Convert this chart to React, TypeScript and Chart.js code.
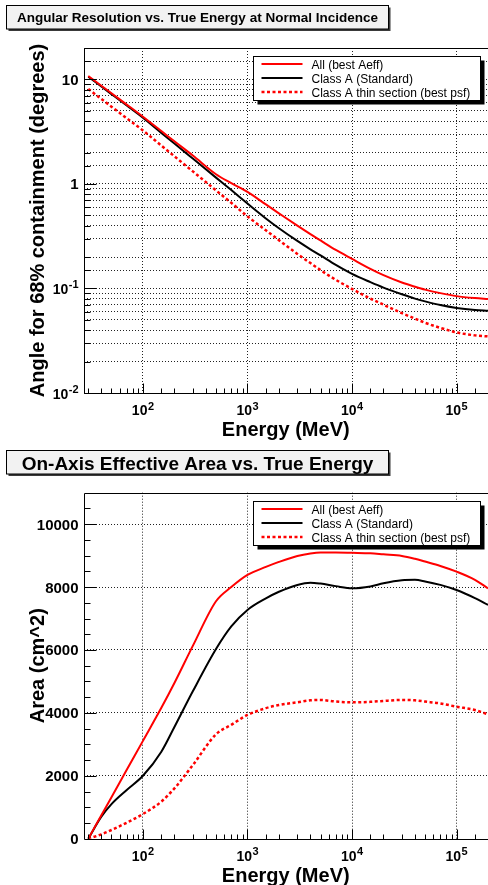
import React, { useEffect, useRef } from 'react';
import { Chart, registerables } from 'chart.js';

Chart.register(...registerables);

// ---------- data ----------
const energyMeV = [30, 40, 50, 70, 100, 150, 200, 300, 500, 700, 1000, 1500, 2000, 3000, 4000, 5000, 7000, 10000, 15000, 20000, 30000, 40000, 50000, 70000, 100000, 150000, 200000];

// 68% containment angle (degrees)
const psfAll = [10.8, 8.72, 7.38, 5.75, 4.4, 3.21, 2.56, 1.87, 1.24, 1.02, 0.84, 0.637, 0.524, 0.399, 0.331, 0.288, 0.234, 0.192, 0.154, 0.134, 0.114, 0.104, 0.0975, 0.0903, 0.0845, 0.081, 0.0795];
const psfClassA = [10.6, 8.55, 7.24, 5.63, 4.3, 3.08, 2.44, 1.75, 1.15, 0.874, 0.65, 0.468, 0.377, 0.285, 0.237, 0.207, 0.168, 0.138, 0.115, 0.102, 0.088, 0.08, 0.0753, 0.0695, 0.0652, 0.0623, 0.0612];
const psfThin = [8.1, 6.51, 5.49, 4.25, 3.25, 2.33, 1.84, 1.32, 0.868, 0.66, 0.49, 0.36, 0.29, 0.214, 0.175, 0.15, 0.121, 0.099, 0.08, 0.07, 0.058, 0.0515, 0.047, 0.042, 0.038, 0.0356, 0.0348];

// effective area (cm^2)
const aeffAll = [0, 745, 1320, 2190, 3110, 4160, 4950, 6130, 7550, 8000, 8385, 8640, 8800, 8990, 9070, 9100, 9100, 9090, 9075, 9040, 8990, 8900, 8810, 8670, 8490, 8230, 7960];
const aeffClassA = [0, 700, 1100, 1550, 2000, 2765, 3550, 4685, 6030, 6750, 7272, 7640, 7850, 8067, 8140, 8110, 8030, 7962, 8020, 8120, 8215, 8230, 8180, 8070, 7908, 7650, 7431];
const aeffThin = [0, 140, 277, 510, 785, 1180, 1600, 2340, 3320, 3620, 3933, 4150, 4250, 4336, 4400, 4410, 4360, 4336, 4350, 4380, 4410, 4400, 4360, 4300, 4197, 4090, 3955];

const seriesLabels = ['All (best Aeff)', 'Class A (Standard)', 'Class A thin section (best psf)'];
const seriesColors = ['#ff0000', '#000000', '#ff0000'];
const seriesWidths = [2, 2, 2.5];
const seriesDash: number[][] = [[], [], [3, 2.5]];

const energyTickValues = [1e2, 1e3, 1e4, 1e5];
const energyTickLabels = ['10^2', '10^3', '10^4', '10^5'];
const angleTickValues = [0.01, 0.1, 1, 10];
const angleTickLabels = ['10^-2', '10^-1', '1', '10'];
const areaTickValues = [0, 2000, 4000, 6000, 8000, 10000];
const areaTickLabels = ['0', '2000', '4000', '6000', '8000', '10000'];

const FONT = '"Liberation Sans", Arial, Helvetica, sans-serif';
const CANVAS_W = 490;
const AREA_LEFT = 83.5;
const AREA_RIGHT = 488;

const isDecade = (v: number) => {
  const l = Math.log10(v);
  return Math.abs(l - Math.round(l)) < 1e-6;
};

function drawLabel(ctx: CanvasRenderingContext2D, label: string, x: number, y: number, align: 'center' | 'right') {
  const parts = label.split('^');
  const base = parts[0];
  const exp = parts.length > 1 ? parts[1] : undefined;
  const baseSize = exp !== undefined ? 14 : 15;
  const expSize = 11;
  ctx.font = `bold ${baseSize}px ${FONT}`;
  const wb = ctx.measureText(base).width;
  let we = 0;
  if (exp !== undefined) {
    ctx.font = `bold ${expSize}px ${FONT}`;
    we = ctx.measureText(exp).width + 0.5;
  }
  const total = wb + we;
  const sx = align === 'center' ? x - total / 2 : x - total;
  ctx.textAlign = 'left';
  ctx.textBaseline = 'alphabetic';
  ctx.font = `bold ${baseSize}px ${FONT}`;
  ctx.fillText(base, sx, y);
  if (exp !== undefined) {
    ctx.font = `bold ${expSize}px ${FONT}`;
    ctx.fillText(exp, sx + wb + 0.5, y - 5.5);
  }
}

type FrameCfg = {
  title: string;
  titleSize: number;
  titleBoxTop: number;
  titleBaseline: number;
  xTitle: string;
  yTitle: string;
  yMode: 'log' | 'linear';
  yTickValues: number[];
  yTickLabels: string[];
};

function makeFramePlugin(cfg: FrameCfg) {
  return {
    id: 'rootFrame',
    afterDraw(chart: any) {
      const ctx: CanvasRenderingContext2D = chart.ctx;
      const a = chart.chartArea;
      const xs = chart.scales.x;
      const ys = chart.scales.y;
      ctx.save();
      ctx.setLineDash([]);
      ctx.fillStyle = '#000';
      ctx.strokeStyle = '#000';
      ctx.lineWidth = 1;

      // frame
      const L = Math.round(a.left) + 0.5;
      const T = Math.round(a.top) + 0.5;
      const B = Math.round(a.bottom) + 0.5;
      const R = Math.round(a.right) + 0.5;
      ctx.beginPath();
      ctx.moveTo(R, T); ctx.lineTo(L, T); ctx.lineTo(L, B); ctx.lineTo(R, B); ctx.lineTo(R, T);
      ctx.stroke();

      // inner tick marks
      ctx.beginPath();
      for (const t of xs.ticks) {
        const px = Math.round(xs.getPixelForValue(t.value)) + 0.5;
        if (px < L + 1 || px > R - 1) continue;
        const len = isDecade(t.value) ? 10 : 5;
        ctx.moveTo(px, B); ctx.lineTo(px, B - len);
      }
      for (const t of ys.ticks) {
        const py = Math.round(ys.getPixelForValue(t.value)) + 0.5;
        if (py < T + 1 || py > B - 1) continue;
        const major = cfg.yMode === 'log' ? isDecade(t.value) : Math.abs(t.value % 2000) < 1e-6;
        const len = major ? 12 : 6;
        ctx.moveTo(L, py); ctx.lineTo(L + len, py);
      }
      ctx.stroke();

      // tick labels
      energyTickValues.forEach((v, i) => {
        drawLabel(ctx, energyTickLabels[i], xs.getPixelForValue(v), a.bottom + 22, 'center');
      });
      cfg.yTickValues.forEach((v, i) => {
        drawLabel(ctx, cfg.yTickLabels[i], a.left - 5, ys.getPixelForValue(v) + 5.5, 'right');
      });

      // axis titles
      ctx.font = `bold 20px ${FONT}`;
      ctx.textAlign = 'center';
      ctx.textBaseline = 'alphabetic';
      ctx.fillText(cfg.xTitle, (a.left + a.right) / 2, a.bottom + 43);
      ctx.save();
      ctx.translate(44, (a.top + a.bottom) / 2);
      ctx.rotate(-Math.PI / 2);
      ctx.fillText(cfg.yTitle, 0, 0);
      ctx.restore();

      // title box
      const bx = 6.5, by = cfg.titleBoxTop + 0.5, bw = 382, bh = 23.5;
      ctx.fillStyle = '#3a3a3a';
      ctx.fillRect(bx + 2, by + 2, bw, bh);
      ctx.fillStyle = '#f2f2f2';
      ctx.fillRect(bx, by, bw, bh);
      ctx.strokeStyle = '#000';
      ctx.strokeRect(bx, by, bw, bh);
      ctx.fillStyle = '#000';
      ctx.font = `bold ${cfg.titleSize}px ${FONT}`;
      ctx.textAlign = 'center';
      ctx.fillText(cfg.title, bx + bw / 2, cfg.titleBaseline);

      // legend
      const lx = Math.round(a.left + 169) + 0.5;
      const ly = Math.round(a.top + 8) + 0.5;
      const lw = 227, lh = 44;
      ctx.fillStyle = '#000';
      ctx.fillRect(lx + 4, ly + 4, lw, lh);
      ctx.fillStyle = '#fff';
      ctx.fillRect(lx, ly, lw, lh);
      ctx.strokeStyle = '#000';
      ctx.lineWidth = 1;
      ctx.strokeRect(lx, ly, lw, lh);
      seriesLabels.forEach((lab, i) => {
        const ry = ly + 7.5 + i * 14;
        ctx.save();
        ctx.strokeStyle = seriesColors[i];
        ctx.lineWidth = seriesWidths[i];
        ctx.setLineDash(seriesDash[i]);
        ctx.beginPath();
        ctx.moveTo(lx + 8, ry);
        ctx.lineTo(lx + 49, ry);
        ctx.stroke();
        ctx.restore();
        ctx.fillStyle = '#000';
        ctx.font = `12px ${FONT}`;
        ctx.textAlign = 'left';
        ctx.textBaseline = 'alphabetic';
        ctx.fillText(lab, lx + 58, ry + 4.5);
      });
      ctx.restore();
    },
  };
}

function buildDatasets(series: number[][]) {
  return series.map((vals, i) => ({
    label: seriesLabels[i],
    data: energyMeV.map((e, j) => ({ x: e, y: vals[j] })),
    borderColor: seriesColors[i],
    backgroundColor: seriesColors[i],
    borderWidth: seriesWidths[i],
    borderDash: seriesDash[i],
    pointRadius: 0,
    fill: false,
    cubicInterpolationMode: 'monotone' as const,
  }));
}

function makeConfig(p: {
  canvasH: number;
  areaTop: number;
  areaBottom: number;
  yType: 'logarithmic' | 'linear';
  yMin: number;
  yMax: number;
  yStep?: number;
  yGridColor: (ctx: any) => string;
  series: number[][];
  frame: FrameCfg;
}): any {
  return {
    type: 'line',
    data: { datasets: buildDatasets(p.series) },
    plugins: [makeFramePlugin(p.frame)],
    options: {
      responsive: false,
      maintainAspectRatio: false,
      animation: false,
      events: [],
      layout: { padding: { left: 0, top: p.areaTop, right: CANVAS_W - AREA_RIGHT, bottom: 0 } },
      plugins: { legend: { display: false }, title: { display: false }, tooltip: { enabled: false } },
      scales: {
        x: {
          type: 'logarithmic',
          min: 27,
          max: 200000,
          position: 'bottom',
          ticks: { display: false, autoSkip: false },
          grid: {
            drawTicks: false,
            lineWidth: 1,
            color: (c: any) => (c.tick && isDecade(c.tick.value) ? '#222' : 'rgba(0,0,0,0)'),
          },
          border: { display: false, dash: [1, 2] },
          afterFit: (s: any) => { s.height = p.canvasH - p.areaBottom; },
        },
        y: {
          type: p.yType,
          min: p.yMin,
          max: p.yMax,
          position: 'left',
          ticks: p.yStep ? { display: false, autoSkip: false, stepSize: p.yStep } : { display: false, autoSkip: false },
          grid: { drawTicks: false, lineWidth: 1, color: p.yGridColor },
          border: { display: false, dash: [1, 2] },
          afterFit: (s: any) => { s.width = AREA_LEFT; },
        },
      },
    },
  };
}

export default function App() {
  const topRef = useRef<HTMLCanvasElement>(null);
  const botRef = useRef<HTMLCanvasElement>(null);

  useEffect(() => {
    const charts: Chart[] = [];
    if (topRef.current) {
      charts.push(new Chart(topRef.current, makeConfig({
        canvasH: 440,
        areaTop: 48,
        areaBottom: 393,
        yType: 'logarithmic',
        yMin: 0.01,
        yMax: 20,
        yGridColor: () => '#222',
        series: [psfAll, psfClassA, psfThin],
        frame: {
          title: 'Angular Resolution vs. True Energy at Normal Incidence',
          titleSize: 13.5,
          titleBoxTop: 5,
          titleBaseline: 21.7,
          xTitle: 'Energy (MeV)',
          yTitle: 'Angle for 68% containment (degrees)',
          yMode: 'log',
          yTickValues: angleTickValues,
          yTickLabels: angleTickLabels,
        },
      })));
    }
    if (botRef.current) {
      charts.push(new Chart(botRef.current, makeConfig({
        canvasH: 445,
        areaTop: 52.7,
        areaBottom: 398.7,
        yType: 'linear',
        yMin: 0,
        yMax: 11000,
        yStep: 500,
        yGridColor: (c: any) => (c.tick && c.tick.value > 0 && Math.abs(c.tick.value % 2000) < 1e-6 ? '#222' : 'rgba(0,0,0,0)'),
        series: [aeffAll, aeffClassA, aeffThin],
        frame: {
          title: 'On-Axis Effective Area vs. True Energy',
          titleSize: 19,
          titleBoxTop: 10,
          titleBaseline: 29.5,
          xTitle: 'Energy (MeV)',
          yTitle: 'Area (cm^2)',
          yMode: 'linear',
          yTickValues: areaTickValues,
          yTickLabels: areaTickLabels,
        },
      })));
    }
    return () => charts.forEach((c) => c.destroy());
  }, []);

  return (
    <div style={{ position: 'absolute', left: 0, top: 0, width: 488, height: 885, overflow: 'hidden', background: '#fff' }}>
      <canvas ref={topRef} width={CANVAS_W} height={440} style={{ position: 'absolute', left: 0, top: 0, width: CANVAS_W, height: 440, display: 'block' }} />
      <canvas ref={botRef} width={CANVAS_W} height={445} style={{ position: 'absolute', left: 0, top: 440, width: CANVAS_W, height: 445, display: 'block' }} />
    </div>
  );
}
